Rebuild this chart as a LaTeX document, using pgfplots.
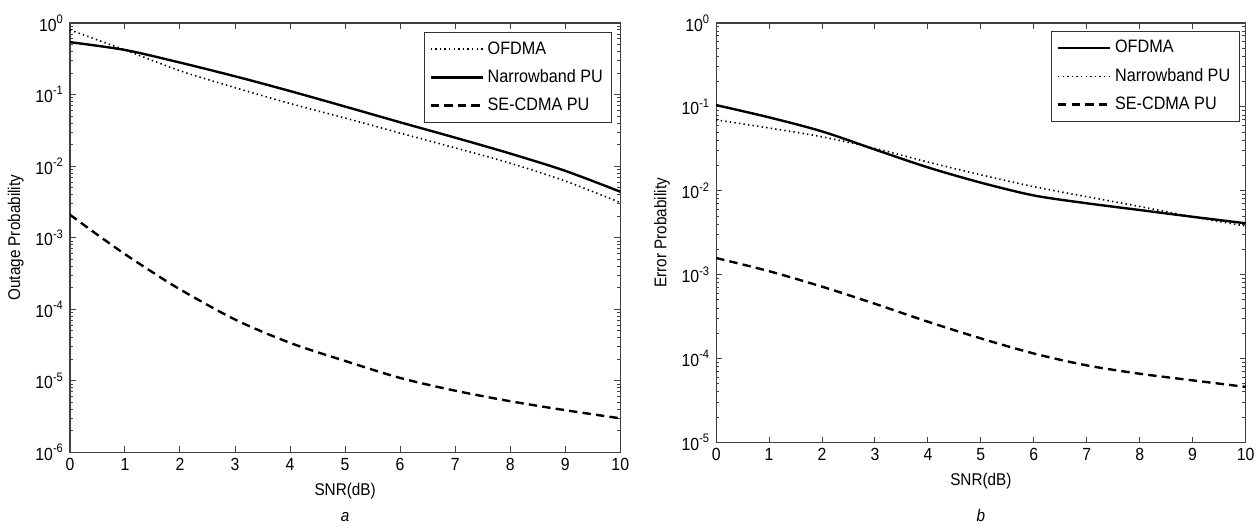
\documentclass[border=0pt]{standalone}
\usepackage{fontspec}
\setmainfont{Liberation Sans}[FakeStretch=0.9]
\usepackage{pgfplots}
\pgfplotsset{compat=1.18}
\tikzset{
 dotl/.style={black, line width=0.8pt, dash pattern=on 0.7pt off 1.6pt},
 solidl/.style={black, line width=1.2pt},
 dashl/.style={black, line width=1.2pt, dash pattern=on 4.2pt off 2.6pt},
}
\pgfplotsset{
   every axis/.append style={
   scale only axis,
   xmin=0, xmax=10, xtick={0,1,...,10},
   axis line style={black!75, line width=0.6pt},
   major tick length=3pt, minor tick length=1.6pt,
   tick align=inside,
   /pgf/number format/assume math mode=true,
   tick label style={font=\fontsize{8.8}{10}\selectfont},
   label style={font=\fontsize{8.5}{10}\selectfont},
   xlabel={SNR(dB)},
   legend cell align=left,
   legend style={draw=black!80, line width=0.5pt, font=\fontsize{9}{10}\selectfont,
     inner xsep=2.5pt, inner ysep=2.5pt, row sep=2.5pt, anchor=north east},
   },
   every tick/.style={black!75, line width=0.5pt},
   legend image code/.code={\draw[#1] (0pt,0pt) -- (26pt,0pt);},
}
\begin{document}
\fontsize{8.5}{10}\selectfont
\begin{tikzpicture}
\path (0,0) rectangle (630pt,263pt);
\begin{semilogyaxis}[log basis y=10, at={(35pt,36.5pt)}, anchor=south west,
  width=275.5pt, height=215pt, ymin=1e-6, ymax=1,
  yticklabel={10\textsuperscript{\pgfmathparse{int(round(\tick))}\pgfmathresult}},
  ylabel={Outage Probability},
  legend style={at={(0.9855,0.979)}}]
\addplot[dotl, smooth] coordinates {(0,0.80)(1,0.42)(2,0.215)(3,0.125)(4,0.075)(5,0.047)(6,0.029)(7,0.018)(8,0.011)(9,0.0062)(10,0.0031)};
\addlegendentry{OFDMA}
\addplot[solidl, smooth] coordinates {(0,0.54)(1,0.42)(2,0.28)(3,0.18)(4,0.112)(5,0.068)(6,0.041)(7,0.025)(8,0.0150)(9,0.0086)(10,0.0044)};
\addlegendentry{Narrowband PU}
\addplot[dashl, smooth] coordinates {(0,2.1e-3)(0.5,1.1e-3)(1,5.9e-4)(1.5,3.3e-4)(2,1.9e-4)(3,7.2e-5)(4,3.4e-5)(5,1.9e-5)(6,1.1e-5)(7,7.3e-6)(8,5.2e-6)(9,3.9e-6)(10,3.0e-6)};
\addlegendentry{SE-CDMA PU}
\end{semilogyaxis}
\begin{semilogyaxis}[log basis y=10, at={(358.5pt,41.5pt)}, anchor=south west,
  width=265pt, height=210pt, ymin=1e-5, ymax=1,
  yticklabel={10\textsuperscript{\pgfmathparse{int(round(\tick))}\pgfmathresult}},
  ylabel={Error Probability},
  legend style={at={(0.989,0.981)}}]
\addplot[solidl, smooth] coordinates {(0,0.105)(1,0.075)(2,0.051)(3,0.031)(4,0.019)(5,0.0125)(6,0.0088)(7,0.0071)(8,0.0059)(9,0.0049)(10,0.0041)};
\addlegendentry{OFDMA}
\addplot[dotl, smooth] coordinates {(0,0.070)(1,0.056)(2,0.044)(3,0.032)(4,0.022)(5,0.0155)(6,0.0112)(7,0.0085)(8,0.0065)(9,0.0049)(10,0.0038)};
\addlegendentry{Narrowband PU}
\addplot[dashl, smooth] coordinates {(0,1.58e-3)(1,1.1e-3)(2,7.2e-4)(3,4.5e-4)(4,2.75e-4)(5,1.74e-4)(6,1.15e-4)(7,8.3e-5)(8,6.6e-5)(9,5.5e-5)(10,4.6e-5)};
\addlegendentry{SE-CDMA PU}
\end{semilogyaxis}
\node[anchor=base, inner sep=0pt] at (172.75pt,2pt) {\itshape a};
\node[anchor=base, inner sep=0pt] at (491pt,2pt) {\itshape b};
\end{tikzpicture}
\end{document}
